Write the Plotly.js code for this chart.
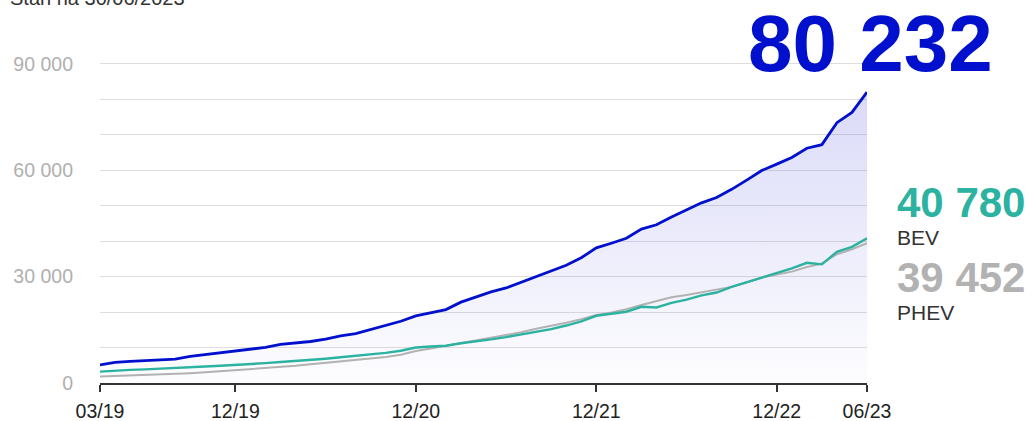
<!DOCTYPE html>
<html>
<head>
<meta charset="utf-8">
<script src="https://cdn.plot.ly/plotly-3.0.1.min.js"></script>
<style>html,body{margin:0;padding:0;background:#fff;}#chart{width:1034px;height:421px;}</style>
</head>
<body>
<div id="chart"></div>
<script>
const months = ['03/19','04/19','05/19','06/19','07/19','08/19','09/19','10/19','11/19','12/19',
  '01/20','02/20','03/20','04/20','05/20','06/20','07/20','08/20','09/20','10/20','11/20','12/20',
  '01/21','02/21','03/21','04/21','05/21','06/21','07/21','08/21','09/21','10/21','11/21','12/21',
  '01/22','02/22','03/22','04/22','05/22','06/22','07/22','08/22','09/22','10/22','11/22','12/22',
  '01/23','02/23','03/23','04/23','05/23','06/23'];
const total = [5100,5800,6100,6300,6500,6750,7500,8000,8450,8900,
  9400,10050,10900,11200,11700,12400,13300,13900,15000,16100,17400,18900,
  19700,20700,22800,24300,25700,26800,28400,30100,31700,33200,35300,38100,
  39400,40800,43400,44600,46800,48700,50800,52300,54600,57200,59900,61700,
  63600,66200,67200,73400,76300,82000];
const bev = [3200,3500,3700,3850,4000,4300,4500,4650,4850,5050,
  5300,5600,5900,6150,6500,6850,7250,7600,8000,8500,9100,10000,
  10300,10500,11200,11700,12300,12950,13700,14350,15200,16200,17400,18960,
  19500,20100,21500,21300,22600,23500,24700,25500,27100,28400,29800,31200,
  32300,33900,33450,37000,38400,40780];
const phev = [1800,1950,2050,2150,2250,2450,2750,3000,3300,3550,
  3800,4100,4600,4850,5300,5700,6050,6350,6700,7300,7950,9000,
  9700,10450,11200,12000,12650,13500,14300,15300,16100,17000,18000,19160,
  19900,20800,22000,23200,24200,24800,25500,26400,27100,28400,29700,30600,
  31400,32700,33700,36300,37700,39452];
const xTicks = ['03/19','12/19','12/20','12/21','12/22','06/23'];
const yTickVals = [0,10000,20000,30000,40000,50000,60000,70000,80000,90000];
const yTickText = ['0','','','30 000','','','60 000','','','90 000'];
const subtitle = 'Stan na 30/06/2023';
const totalLabel = '80 232';
const bevLabel = '40 780';
const phevLabel = '39 452';

const FONT = 'Liberation Sans, Arial, Helvetica, sans-serif';
const BLUE = '#0010cc', TEAL = '#2cb2a0', GREY = '#b2b2b2';

const traces = [
  {x: months, y: total, type: 'scatter', mode: 'lines', fill: 'tozeroy',
   fillgradient: {type: 'vertical', colorscale: [[0, 'rgba(60,60,220,0.01)'], [1, 'rgba(60,60,220,0.19)']]},
   line: {color: BLUE, width: 2.8}, hoverinfo: 'skip'},
  {x: months, y: phev, type: 'scatter', mode: 'lines', line: {color: GREY, width: 2}, hoverinfo: 'skip'},
  {x: months, y: bev, type: 'scatter', mode: 'lines', line: {color: TEAL, width: 2.4}, hoverinfo: 'skip'}
];

const layout = {
  width: 1034, height: 421,
  margin: {l: 100, r: 167, t: 62, b: 38},
  paper_bgcolor: '#fff', plot_bgcolor: '#fff',
  showlegend: false,
  font: {family: FONT, color: '#333'},
  xaxis: {
    type: 'category', range: [0, months.length - 1],
    tickmode: 'array', tickvals: xTicks, ticktext: xTicks,
    showgrid: false, zeroline: false,
    showline: true, linecolor: '#333', linewidth: 2,
    ticks: 'outside', ticklen: 7, tickwidth: 2, tickcolor: '#333',
    ticklabelstandoff: 3,
    tickfont: {size: 19.5, color: '#222', family: FONT}
  },
  yaxis: {
    range: [0, 90500],
    tickmode: 'array', tickvals: yTickVals, ticktext: yTickText,
    showgrid: true, gridcolor: '#dddddd', gridwidth: 1,
    zeroline: false, showline: false, ticks: '',
    ticklabelstandoff: 26,
    tickfont: {size: 19.5, color: '#b0b0b0', family: FONT}
  },
  annotations: [
    {text: subtitle, xref: 'paper', yref: 'paper', x: -0.12, y: 1.200, xanchor: 'left', yanchor: 'middle',
     showarrow: false, font: {size: 20, color: '#333', family: FONT}},
    {text: '<b>' + totalLabel + '</b>', xref: 'paper', yref: 'paper', x: 0.842, y: 1.059, xanchor: 'left', yanchor: 'middle',
     showarrow: false, font: {size: 80, color: BLUE, family: FONT}},
    {text: '<b>' + bevLabel + '</b>', xref: 'paper', yref: 'paper', x: 1.0365, y: 0.5623, xanchor: 'left', yanchor: 'middle',
     showarrow: false, font: {size: 42, color: TEAL, family: FONT}},
    {text: 'BEV', xref: 'paper', yref: 'paper', x: 1.0365, y: 0.4533, xanchor: 'left', yanchor: 'middle',
     showarrow: false, font: {size: 21, color: '#333', family: FONT}},
    {text: '<b>' + phevLabel + '</b>', xref: 'paper', yref: 'paper', x: 1.0365, y: 0.3277, xanchor: 'left', yanchor: 'middle',
     showarrow: false, font: {size: 42, color: GREY, family: FONT}},
    {text: 'PHEV', xref: 'paper', yref: 'paper', x: 1.0365, y: 0.2187, xanchor: 'left', yanchor: 'middle',
     showarrow: false, font: {size: 21, color: '#333', family: FONT}}
  ]
};

Plotly.newPlot('chart', traces, layout, {staticPlot: true, displayModeBar: false});
</script>
</body>
</html>
